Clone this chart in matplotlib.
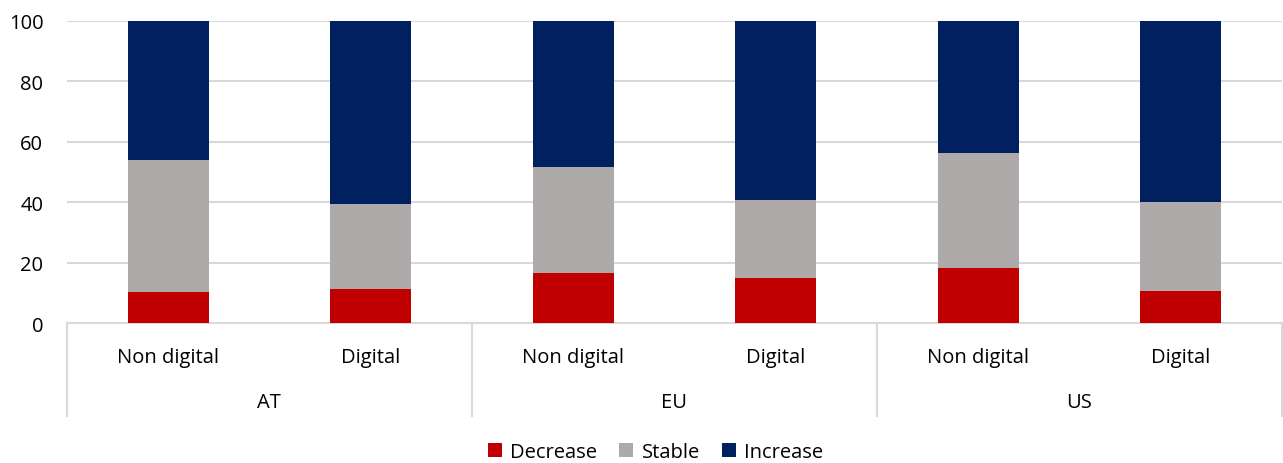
import matplotlib
matplotlib.use('Agg')

import matplotlib.pyplot as plt
import matplotlib.transforms as mtransforms
import numpy as np

plt.rcParams['font.family'] = ['Open Sans', 'DejaVu Sans']

regions = ['AT', 'EU', 'US']
kinds = ['Non digital', 'Digital']
decrease = [10.3, 11.4, 16.7, 15.0, 18.1, 10.6]
stable = [43.6, 28.1, 35.1, 25.7, 38.1, 29.4]
increase = [46.1, 60.5, 48.2, 59.3, 43.8, 60.0]

fig = plt.figure(figsize=(12.83, 4.64), dpi=100)
ax = fig.add_axes([0.0522, 0.3017, 0.9468, 0.6509])

x = np.arange(len(decrease))
bottom2 = np.array(decrease)
bottom3 = bottom2 + np.array(stable)
w = 0.4
ax.bar(x, decrease, w, color='#C00000', label='Decrease', zorder=3)
ax.bar(x, stable, w, bottom=bottom2, color='#AEAAAA', label='Stable', zorder=3)
ax.bar(x, increase, w, bottom=bottom3, color='#002060', label='Increase', zorder=3)

ax.set_xlim(-0.5, 5.5)
ax.set_ylim(0, 100)
ax.set_yticks(range(0, 101, 20))
ax.yaxis.grid(True, color='#d9d9d9', linewidth=1.5, zorder=0)
ax.tick_params(axis='y', length=0, labelsize=14.5, pad=17)
ax.tick_params(axis='x', length=0, labelbottom=False)
for s in ['top', 'right', 'left']:
    ax.spines[s].set_visible(False)
ax.spines['bottom'].set_color('#d9d9d9')
ax.spines['bottom'].set_linewidth(1.5)

# two-level category axis
trans = mtransforms.blended_transform_factory(ax.transData, ax.transAxes)
for xs in [-0.5, 1.5, 3.5, 5.5]:
    ax.plot([xs, xs], [0, -0.308], transform=trans, color='#d9d9d9',
            linewidth=1.5, clip_on=False)
for i in x:
    ax.text(i, -0.112, kinds[i % 2], transform=trans, ha='center', va='center',
            fontsize=14.5)
for j, r in enumerate(regions):
    ax.text(2 * j + 0.5, -0.262, r, transform=trans, ha='center', va='center',
            fontsize=14.5)

fig.legend(loc='center', bbox_to_anchor=(0.511, 0.024), ncol=3, frameon=False,
           fontsize=14.5, handlelength=0.7, handleheight=0.7, handletextpad=0.4,
           columnspacing=1.1)

fig.savefig('out.png', dpi=100)
